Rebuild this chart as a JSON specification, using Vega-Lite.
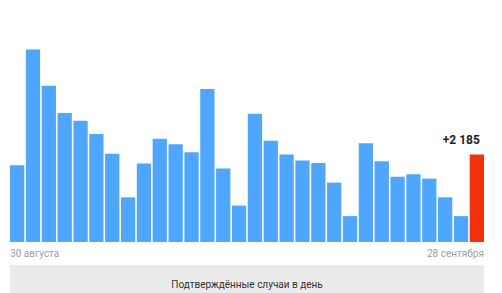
{
  "$schema": "https://vega.github.io/schema/vega-lite/v6.json",
  "padding": {"left": 9, "top": 42, "right": 19, "bottom": 0},
  "background": "white",
  "config": {"view": {"stroke": null}, "font": "Roboto"},
  "spacing": 7,
  "vconcat": [
    {
      "width": 474,
      "height": 200,
      "data": {"values": [
        {"d": "2020-08-30", "v": 1921}, {"d": "2020-08-31", "v": 4810}, {"d": "2020-09-01", "v": 3909},
        {"d": "2020-09-02", "v": 3227}, {"d": "2020-09-03", "v": 3030}, {"d": "2020-09-04", "v": 2702},
        {"d": "2020-09-05", "v": 2209}, {"d": "2020-09-06", "v": 1116}, {"d": "2020-09-07", "v": 1963},
        {"d": "2020-09-08", "v": 2579}, {"d": "2020-09-09", "v": 2446}, {"d": "2020-09-10", "v": 2241},
        {"d": "2020-09-11", "v": 3825}, {"d": "2020-09-12", "v": 1840}, {"d": "2020-09-13", "v": 911},
        {"d": "2020-09-14", "v": 3209}, {"d": "2020-09-15", "v": 2529}, {"d": "2020-09-16", "v": 2185},
        {"d": "2020-09-17", "v": 2037}, {"d": "2020-09-18", "v": 1978}, {"d": "2020-09-19", "v": 1485},
        {"d": "2020-09-20", "v": 648}, {"d": "2020-09-21", "v": 2470}, {"d": "2020-09-22", "v": 2020},
        {"d": "2020-09-23", "v": 1633}, {"d": "2020-09-24", "v": 1692}, {"d": "2020-09-25", "v": 1584},
        {"d": "2020-09-26", "v": 1116}, {"d": "2020-09-27", "v": 648}, {"d": "2020-09-28", "v": 2185}
      ]},
      "layer": [
        {
          "mark": {"type": "bar"},
          "encoding": {
            "x": {
              "field": "d", "type": "ordinal",
              "scale": {"paddingInner": 0.1, "paddingOuter": 0},
              "axis": {
                "title": null, "ticks": false, "domain": false,
                "values": ["2020-08-30", "2020-09-28"],
                "labelExpr": "datum.value == '2020-08-30' ? '30 августа' : '28 сентября'",
                "labelAngle": 0,
                "labelAlign": {"condition": {"test": "datum.value == '2020-08-30'", "value": "left"}, "value": "right"},
                "labelOffset": {"condition": {"test": "datum.value == '2020-08-30'", "value": -7}, "value": 7},
                "labelColor": "#a0a0a0", "labelFontSize": 10, "labelPadding": 6
              }
            },
            "y": {"field": "v", "type": "quantitative", "scale": {"domain": [0, 4926]}, "axis": null},
            "color": {
              "condition": {"test": "datum.d == '2020-09-28'", "value": "#f3300c"},
              "value": "#4ea6ff"
            }
          }
        },
        {
          "transform": [{"filter": "datum.d == '2020-09-28'"}],
          "mark": {"type": "text", "align": "right", "baseline": "bottom", "dx": 3, "dy": -8, "fontWeight": "bold", "fontSize": 12, "color": "#222"},
          "encoding": {
            "x": {"field": "d", "type": "ordinal"},
            "y": {"field": "v", "type": "quantitative"},
            "text": {"value": "+2 185"}
          }
        }
      ]
    },
    {
      "width": 474,
      "height": 40,
      "view": {"fill": "#ebebeb", "stroke": null},
      "data": {"values": [{"t": "Подтверждённые случаи в день"}]},
      "mark": {"type": "text", "fontSize": 10, "color": "#333"},
      "encoding": {"text": {"field": "t"}}
    }
  ]
}
